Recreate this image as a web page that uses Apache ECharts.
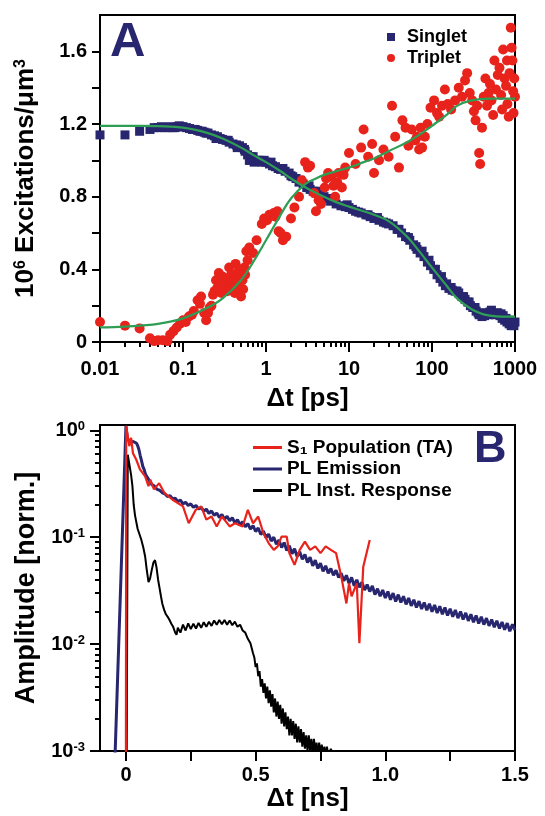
<!DOCTYPE html>
<html><head><meta charset="utf-8">
<script src="https://cdn.jsdelivr.net/npm/echarts@6/dist/echarts.min.js"></script>
<style>html,body{margin:0;padding:0;background:#fff}#c{width:545px;height:816px}</style>
</head><body><div id="c"></div>
<script>
// ---------- Panel A data ----------
const singletPoints = [[0.01,1.14],[0.02,1.14],[0.03,1.16],[0.04,1.17],[0.045,1.18],[0.05,1.18],[0.055,1.185],[0.06,1.18],[0.065,1.18],[0.07,1.185],[0.075,1.18],[0.08,1.18],[0.085,1.185],[0.09,1.19],[0.095,1.185],[0.1,1.185],[0.11,1.18],[0.12,1.175],[0.13,1.17],[0.14,1.17],[0.15,1.165],[0.16,1.16],[0.17,1.16],[0.18,1.155],[0.19,1.15],[0.2,1.15],[0.22,1.14],[0.24,1.135],[0.25,1.12],[0.26,1.13],[0.28,1.12],[0.3,1.115],[0.33,1.11],[0.35,1.11],[0.36,1.1],[0.4,1.09],[0.44,1.085],[0.45,1.07],[0.48,1.08],[0.52,1.07],[0.55,1.06],[0.56,1.05],[0.6,1.03],[0.63,1.0],[0.65,1.0],[0.66,1.02],[0.7,1.02],[0.72,0.99],[0.75,1.0],[0.8,1.0],[0.85,1.0],[0.9,0.99],[0.95,1.0],[1.0,0.99],[1.1,0.98],[1.15,0.99],[1.2,0.97],[1.3,0.965],[1.4,0.955],[1.5,0.95],[1.6,0.955],[1.7,0.94],[1.9,0.93],[2.0,0.915],[2.1,0.91],[2.3,0.9],[2.5,0.88],[2.6,0.89],[2.8,0.87],[3.1,0.85],[3.3,0.86],[3.4,0.84],[3.7,0.83],[4.0,0.82],[4.2,0.83],[4.5,0.81],[5.0,0.8],[5.5,0.79],[6,0.775],[6.5,0.78],[7,0.76],[8,0.75],[9,0.745],[9.5,0.755],[10,0.74],[11,0.73],[12,0.72],[13,0.715],[14,0.71],[16,0.7],[17,0.7],[18,0.69],[20,0.68],[22,0.685],[23,0.67],[26,0.66],[28,0.655],[30,0.65],[34,0.64],[38,0.62],[40,0.62],[43,0.6],[48,0.58],[52,0.575],[54,0.56],[60,0.535],[64,0.525],[66,0.51],[72,0.49],[76,0.5],[80,0.47],[88,0.44],[92,0.45],[96,0.42],[105,0.4],[110,0.4],[115,0.37],[125,0.35],[130,0.36],[135,0.33],[145,0.31],[150,0.32],[160,0.295],[170,0.3],[175,0.285],[190,0.28],[200,0.28],[210,0.27],[230,0.25],[240,0.25],[250,0.235],[270,0.22],[280,0.22],[290,0.2],[310,0.19],[330,0.19],[340,0.17],[360,0.16],[370,0.15],[400,0.14],[420,0.16],[430,0.145],[460,0.16],[480,0.15],[500,0.165],[520,0.175],[540,0.155],[580,0.15],[600,0.16],[620,0.16],[660,0.145],[680,0.155],[700,0.13],[720,0.145],[750,0.12],[780,0.13],[800,0.11],[850,0.1],[880,0.12],[900,0.09],[950,0.1],[970,0.09],[1000,0.11]];
const tripletPoints = [[0.01,0.11],[0.02,0.09],[0.03,0.075],[0.04,0.02],[0.045,0.005],[0.05,0.01],[0.057,0.01],[0.065,0.005],[0.07,0.04],[0.077,0.06],[0.084,0.08],[0.092,0.1],[0.1,0.12],[0.108,0.11],[0.118,0.14],[0.128,0.15],[0.135,0.17],[0.15,0.23],[0.16,0.21],[0.165,0.25],[0.18,0.16],[0.19,0.12],[0.2,0.16],[0.21,0.19],[0.22,0.2],[0.23,0.26],[0.24,0.28],[0.25,0.34],[0.26,0.3],[0.27,0.38],[0.28,0.32],[0.29,0.27],[0.3,0.36],[0.31,0.3],[0.32,0.33],[0.34,0.28],[0.35,0.35],[0.36,0.41],[0.37,0.3],[0.38,0.37],[0.39,0.32],[0.41,0.34],[0.42,0.27],[0.43,0.43],[0.44,0.36],[0.45,0.38],[0.46,0.33],[0.47,0.3],[0.48,0.4],[0.5,0.25],[0.52,0.34],[0.53,0.29],[0.55,0.41],[0.56,0.37],[0.58,0.5],[0.6,0.45],[0.63,0.52],[0.7,0.49],[0.77,0.56],[0.89,0.65],[0.95,0.68],[1.03,0.67],[1.1,0.7],[1.24,0.71],[1.3,0.69],[1.37,0.72],[1.42,0.61],[1.5,0.6],[1.6,0.56],[1.75,0.58],[2.0,0.68],[2.2,0.74],[2.5,0.8],[2.7,0.89],[2.96,0.99],[3.2,0.96],[3.4,0.97],[3.8,0.82],[4.0,0.72],[4.3,0.78],[4.6,0.76],[5.1,0.85],[5.3,0.9],[5.6,0.93],[6.1,0.91],[6.5,0.86],[6.8,0.8],[7.2,0.88],[7.5,0.93],[8.2,0.85],[8.6,0.92],[9,0.96],[10,1.04],[12,0.98],[14,1.07],[15,1.17],[17,1.02],[19,1.09],[20,0.93],[23,1.0],[26,1.06],[30,1.02],[33,1.3],[36,1.13],[40,0.96],[44,1.22],[48,1.18],[52,1.08],[57,1.17],[63,1.11],[66,1.13],[70,1.06],[73,1.18],[76,1.07],[82,1.13],[88,1.2],[96,1.29],[106,1.33],[115,1.26],[122,1.24],[132,1.3],[143,1.39],[155,1.31],[170,1.28],[190,1.33],[210,1.4],[230,1.35],[250,1.44],[265,1.48],[285,1.37],[305,1.33],[320,1.27],[335,1.22],[350,1.3],[370,1.04],[380,0.98],[400,1.18],[420,1.35],[440,1.45],[460,1.3],[480,1.37],[500,1.42],[520,1.33],[545,1.25],[565,1.55],[590,1.39],[620,1.47],[650,1.51],[680,1.36],[700,1.28],[720,1.61],[750,1.45],[780,1.41],[800,1.55],[810,1.31],[840,1.24],[860,1.48],[890,1.73],[910,1.62],[930,1.55],[950,1.38],[960,1.26],[980,1.45],[1000,1.35]];
const singletFit = [[0.01,1.19],[0.03,1.19],[0.05,1.188],[0.1,1.18],[0.2,1.15],[0.3,1.12],[0.5,1.07],[0.7,1.03],[1,0.99],[1.5,0.94],[2,0.9],[3,0.85],[5,0.8],[7,0.77],[10,0.745],[15,0.72],[20,0.7],[30,0.665],[50,0.58],[70,0.5],[100,0.41],[150,0.31],[200,0.24],[300,0.18],[400,0.155],[500,0.145],[700,0.14],[1000,0.14]];
const tripletFit = [[0.01,0.08],[0.02,0.085],[0.05,0.1],[0.1,0.13],[0.2,0.19],[0.3,0.24],[0.5,0.34],[0.7,0.44],[1,0.56],[1.5,0.7],[2,0.79],[3,0.87],[4,0.9],[5,0.92],[7,0.94],[10,0.96],[15,0.99],[20,1.01],[30,1.05],[50,1.1],[70,1.14],[100,1.19],[150,1.25],[200,1.3],[300,1.33],[500,1.34],[1000,1.34]];
const yTicksA = [0,0.2,0.4,0.6,0.8,1.0,1.2,1.4,1.6];
const yLabelsA = [0,0.4,0.8,1.2,1.6];
const xMinorTicksA = [0.02,0.03,0.04,0.05,0.06,0.07,0.08,0.09,0.2,0.3,0.4,0.5,0.6,0.7,0.8,0.9,2,3,4,5,6,7,8,9,20,30,40,50,60,70,80,90,200,300,400,500,600,700,800,900];

// ---------- Panel B data ----------
const taCurve = [[0,0.0009],[0.001,1.1],[0.013,0.71],[0.02,0.85],[0.027,0.61],[0.04,0.53],[0.054,0.43],[0.074,0.37],[0.087,0.3],[0.094,0.345],[0.108,0.28],[0.128,0.32],[0.148,0.26],[0.18,0.224],[0.22,0.194],[0.242,0.135],[0.269,0.18],[0.29,0.194],[0.31,0.146],[0.33,0.156],[0.35,0.126],[0.37,0.156],[0.4,0.126],[0.42,0.135],[0.45,0.126],[0.47,0.18],[0.49,0.135],[0.51,0.156],[0.53,0.109],[0.55,0.088],[0.57,0.076],[0.585,0.082],[0.6,0.101],[0.62,0.101],[0.63,0.071],[0.65,0.055],[0.67,0.076],[0.69,0.091],[0.71,0.076],[0.73,0.082],[0.75,0.071],[0.77,0.082],[0.79,0.076],[0.81,0.071],[0.83,0.043],[0.85,0.024],[0.86,0.037],[0.87,0.028],[0.89,0.037],[0.9,0.0102],[0.915,0.053],[0.94,0.094]];
const plEmission = [[-0.042,0.0009],[0,1.1],[0.005,0.86],[0.01,0.8],[0.015,0.83],[0.02,0.79],[0.025,0.82],[0.03,0.78],[0.035,0.8],[0.04,0.76],[0.045,0.72],[0.05,0.66],[0.055,0.58],[0.06,0.52],[0.065,0.46],[0.07,0.43],[0.075,0.39],[0.08,0.37],[0.09,0.34],[0.1,0.31],[0.11,0.3],[0.12,0.28],[0.13,0.275],[0.14,0.26],[0.15,0.255],[0.16,0.24],[0.17,0.245],[0.18,0.228],[0.19,0.232],[0.2,0.215],[0.21,0.222],[0.22,0.205],[0.23,0.212],[0.24,0.198],[0.25,0.205],[0.26,0.19],[0.27,0.198],[0.28,0.183],[0.29,0.19],[0.3,0.175],[0.31,0.183],[0.32,0.167],[0.33,0.176],[0.34,0.16],[0.35,0.168],[0.36,0.153],[0.37,0.163],[0.38,0.147],[0.39,0.157],[0.4,0.142],[0.41,0.152],[0.42,0.136],[0.43,0.146],[0.44,0.13],[0.45,0.14],[0.46,0.125],[0.47,0.134],[0.48,0.119],[0.49,0.128],[0.5,0.113],[0.51,0.122],[0.52,0.106],[0.53,0.114],[0.54,0.099],[0.55,0.107],[0.56,0.092],[0.57,0.1],[0.58,0.086],[0.59,0.094],[0.6,0.08],[0.61,0.089],[0.62,0.075],[0.63,0.083],[0.64,0.07],[0.65,0.078],[0.66,0.066],[0.67,0.073],[0.68,0.062],[0.69,0.069],[0.7,0.058],[0.71,0.065],[0.72,0.054],[0.73,0.061],[0.74,0.051],[0.75,0.057],[0.76,0.048],[0.77,0.054],[0.78,0.046],[0.79,0.051],[0.8,0.044],[0.81,0.049],[0.82,0.042],[0.83,0.046],[0.84,0.039],[0.85,0.044],[0.86,0.037],[0.87,0.042],[0.88,0.035],[0.89,0.04],[0.9,0.034],[0.91,0.038],[0.92,0.032],[0.93,0.036],[0.94,0.031],[0.95,0.035],[0.96,0.029],[0.97,0.033],[0.98,0.028],[0.99,0.032],[1.0,0.027],[1.01,0.031],[1.02,0.026],[1.03,0.03],[1.04,0.025],[1.05,0.029],[1.06,0.0245],[1.07,0.028],[1.08,0.0235],[1.09,0.027],[1.1,0.0228],[1.11,0.026],[1.12,0.022],[1.13,0.0252],[1.14,0.0213],[1.15,0.0245],[1.16,0.0207],[1.17,0.0238],[1.18,0.0201],[1.19,0.0232],[1.2,0.0195],[1.21,0.0226],[1.22,0.019],[1.23,0.022],[1.24,0.0185],[1.25,0.0214],[1.26,0.018],[1.27,0.0208],[1.28,0.0175],[1.29,0.0202],[1.3,0.017],[1.31,0.0196],[1.32,0.0165],[1.33,0.019],[1.34,0.016],[1.35,0.0185],[1.36,0.0156],[1.37,0.018],[1.38,0.0152],[1.39,0.0175],[1.4,0.0148],[1.41,0.017],[1.42,0.0144],[1.43,0.0165],[1.44,0.014],[1.45,0.0161],[1.46,0.0136],[1.47,0.0157],[1.48,0.0132],[1.49,0.0153],[1.5,0.0135]];
const plIrf = [[0.003,0.0009],[0.007,0.59],[0.012,0.5],[0.02,0.38],[0.025,0.3],[0.03,0.2],[0.035,0.16],[0.045,0.12],[0.059,0.095],[0.067,0.08],[0.074,0.066],[0.08,0.05],[0.087,0.038],[0.093,0.041],[0.1,0.05],[0.106,0.058],[0.112,0.061],[0.118,0.052],[0.124,0.04],[0.13,0.033],[0.135,0.028],[0.14,0.024],[0.147,0.021],[0.154,0.019],[0.161,0.018],[0.168,0.0168],[0.175,0.0155],[0.182,0.0145],[0.19,0.0128],[0.195,0.0122],[0.2,0.0142],[0.21,0.0128],[0.22,0.0152],[0.23,0.0134],[0.24,0.0156],[0.25,0.0138],[0.26,0.0155],[0.27,0.014],[0.28,0.0158],[0.29,0.0142],[0.3,0.016],[0.31,0.0145],[0.32,0.0162],[0.33,0.0148],[0.34,0.0166],[0.35,0.0152],[0.36,0.0168],[0.37,0.0153],[0.38,0.0168],[0.39,0.0152],[0.4,0.0166],[0.41,0.015],[0.42,0.0162],[0.43,0.0145],[0.44,0.0152],[0.45,0.0134],[0.46,0.0128],[0.47,0.0112],[0.48,0.0102],[0.49,0.0082],[0.495,0.0075],[0.5,0.0061],[0.505,0.0066],[0.51,0.005],[0.515,0.0056],[0.52,0.004],[0.525,0.0047],[0.53,0.0035],[0.535,0.0043],[0.54,0.0031],[0.545,0.004],[0.55,0.0028],[0.555,0.0037],[0.56,0.0026],[0.565,0.0034],[0.57,0.0023],[0.575,0.0031],[0.58,0.0021],[0.585,0.0029],[0.59,0.002],[0.595,0.0027],[0.6,0.0018],[0.605,0.0025],[0.61,0.0017],[0.615,0.0023],[0.62,0.0016],[0.625,0.0021],[0.63,0.0014],[0.635,0.002],[0.64,0.0014],[0.645,0.0019],[0.65,0.0013],[0.655,0.0018],[0.66,0.0012],[0.665,0.0017],[0.67,0.0012],[0.675,0.0016],[0.68,0.0011],[0.685,0.0015],[0.69,0.00105],[0.695,0.0014],[0.7,0.001],[0.705,0.0014],[0.71,0.001],[0.715,0.0013],[0.72,0.00095],[0.725,0.0013],[0.73,0.00095],[0.735,0.0012],[0.74,0.0009],[0.745,0.0012],[0.75,0.0009],[0.755,0.00115],[0.76,0.0009],[0.765,0.0011],[0.77,0.0009],[0.775,0.0011],[0.78,0.0009],[0.79,0.00105],[0.8,0.0009]];
const xTicksB = [0,0.25,0.5,0.75,1.0,1.25,1.5];
const xLabelsB = [0,0.5,1.0,1.5];
const yMinorTicksB = [0.002,0.003,0.004,0.005,0.006,0.007,0.008,0.009,0.02,0.03,0.04,0.05,0.06,0.07,0.08,0.09,0.2,0.3,0.4,0.5,0.6,0.7,0.8,0.9];

const FF = "'Liberation Sans', Arial, sans-serif";
const NAVY = '#28266f', RED = '#e8231c', GREEN = '#2f9e55';
const lblStyle = {fontSize:20, fontWeight:'bold', color:'#000', fontFamily:FF};
const nameStyle = {fontSize:26, fontWeight:'bold', color:'#000', fontFamily:FF};
const axLine = {show:true, onZero:false, lineStyle:{color:'#000', width:2}};
const noLine = {show:false, onZero:false};
const gridA = {left:100, top:15, width:415, height:327};
const gridB = {left:100, top:425, width:415, height:326};
const yMaxB = 1.12;

const chart = echarts.init(document.getElementById('c'), null, {renderer:'canvas'});
chart.setOption({
  animation:false,
  backgroundColor:'#fff',
  grid:[
    Object.assign({show:true, borderColor:'#000', borderWidth:2, backgroundColor:'transparent'}, gridA),
    Object.assign({show:true, borderColor:'#000', borderWidth:2, backgroundColor:'transparent'}, gridB),
    Object.assign({show:false}, gridA),   // minor-tick overlay for the log x axis of panel A
    Object.assign({show:false}, gridB)    // minor-tick overlay for the log y axis of panel B
  ],
  legend:[
    {data:[{name:'Singlet', icon:'rect'},{name:'Triplet', icon:'circle'}], left:382, top:23, orient:'vertical',
     itemWidth:8, itemHeight:8, itemGap:3, textStyle:Object.assign({}, lblStyle, {fontSize:18, padding:[0,0,0,7]})},
    {data:['S₁ Population (TA)','PL Emission','PL Inst. Response'], left:248, top:433, orient:'vertical',
     icon:'rect', itemWidth:29, itemHeight:3, itemGap:2.5, textStyle:Object.assign({}, lblStyle, {fontSize:19})}
  ],
  graphic:[
    {type:'text', left:110, top:18, style:{text:'A', font:"bold 49px 'Liberation Sans', Arial", fill:NAVY}},
    {type:'text', left:474, top:427, style:{text:'B', font:"bold 45px 'Liberation Sans', Arial", fill:NAVY}}
  ],
  xAxis:[
    {type:'log', gridIndex:0, logBase:10, min:0.01, max:1000, position:'bottom',
     axisLine:axLine, axisTick:{show:true, length:10, lineStyle:{color:'#000', width:2}},
     axisLabel:Object.assign({margin:17, formatter:v=>String(+(+v).toPrecision(3))}, lblStyle),
     splitLine:{show:false}, name:'Δt [ps]', nameLocation:'middle', nameGap:44, nameTextStyle:nameStyle},
    {type:'value', gridIndex:1, min:-0.1, max:1.5, position:'bottom',
     axisLine:axLine, axisTick:{show:true, length:10, customValues:xTicksB, lineStyle:{color:'#000', width:2}},
     axisLabel:Object.assign({margin:14, customValues:xLabelsB, formatter:v=>v===0?'0':v.toFixed(1)}, lblStyle),
     splitLine:{show:false}, name:'Δt [ns]', nameLocation:'middle', nameGap:35, nameTextStyle:nameStyle},
    {type:'value', gridIndex:2, min:-2, max:3, position:'bottom',
     axisLine:noLine, axisTick:{show:true, length:5, customValues:xMinorTicksA.map(Math.log10), lineStyle:{color:'#000', width:2}},
     axisLabel:{show:false}, splitLine:{show:false}},
    {type:'value', gridIndex:3, show:false, min:0, max:1, axisLine:noLine}
  ],
  yAxis:[
    {type:'value', gridIndex:0, min:0, max:1.8, position:'left',
     axisLine:axLine, axisTick:{show:true, length:8, customValues:yTicksA, lineStyle:{color:'#000', width:2}},
     axisLabel:Object.assign({margin:13, customValues:yLabelsA}, lblStyle),
     splitLine:{show:false}, name:'10{sup|6} Excitations/μm{sup|3}', nameLocation:'middle', nameGap:61,
     nameTextStyle:Object.assign({}, nameStyle, {rich:{sup:{fontSize:16, fontWeight:'bold', fontFamily:FF, color:'#000', verticalAlign:'top'}}})},
    {type:'log', gridIndex:1, logBase:10, min:0.001, max:yMaxB, position:'left',
     axisLine:axLine, axisTick:{show:true, length:10, lineStyle:{color:'#000', width:2}},
     axisLabel:Object.assign({margin:15, showMaxLabel:false, formatter:v=>'10{s|'+Math.round(Math.log10(v))+'}',
       rich:{s:{fontSize:13, fontWeight:'bold', fontFamily:FF, color:'#000', verticalAlign:'top'}}}, lblStyle),
     splitLine:{show:false}, name:'Amplitude [norm.]', nameLocation:'middle', nameGap:54, nameTextStyle:Object.assign({}, nameStyle, {fontSize:27})},
    {type:'value', gridIndex:2, show:false, min:0, max:1, axisLine:noLine},
    {type:'value', gridIndex:3, min:-3, max:Math.log10(yMaxB), position:'left',
     axisLine:noLine, axisTick:{show:true, length:5, customValues:yMinorTicksB.map(Math.log10), lineStyle:{color:'#000', width:2}},
     axisLabel:{show:false}, splitLine:{show:false}}
  ],
  series:[
    {name:'Singlet', type:'scatter', xAxisIndex:0, yAxisIndex:0, data:singletPoints, symbol:'rect', symbolSize:9, itemStyle:{color:NAVY, opacity:1}, z:2},
    {name:'Triplet', type:'scatter', xAxisIndex:0, yAxisIndex:0, data:tripletPoints, symbol:'circle', symbolSize:10, itemStyle:{color:RED, opacity:1}, z:3},
    {name:'Singlet fit', type:'line', xAxisIndex:0, yAxisIndex:0, data:singletFit, smooth:0.4, showSymbol:false, lineStyle:{color:GREEN, width:2.2}, z:4},
    {name:'Triplet fit', type:'line', xAxisIndex:0, yAxisIndex:0, data:tripletFit, smooth:0.4, showSymbol:false, lineStyle:{color:GREEN, width:2.2}, z:4},
    {name:'PL Emission', type:'line', xAxisIndex:1, yAxisIndex:1, data:plEmission, showSymbol:false, lineStyle:{color:NAVY, width:3}, itemStyle:{color:NAVY}, z:2},
    {name:'PL Inst. Response', type:'line', xAxisIndex:1, yAxisIndex:1, data:plIrf, showSymbol:false, lineStyle:{color:'#000', width:2}, itemStyle:{color:'#000'}, z:3},
    {name:'S₁ Population (TA)', type:'line', xAxisIndex:1, yAxisIndex:1, data:taCurve, showSymbol:false, lineStyle:{color:RED, width:2.2}, itemStyle:{color:RED}, z:4}
  ]
});
</script></body></html>
